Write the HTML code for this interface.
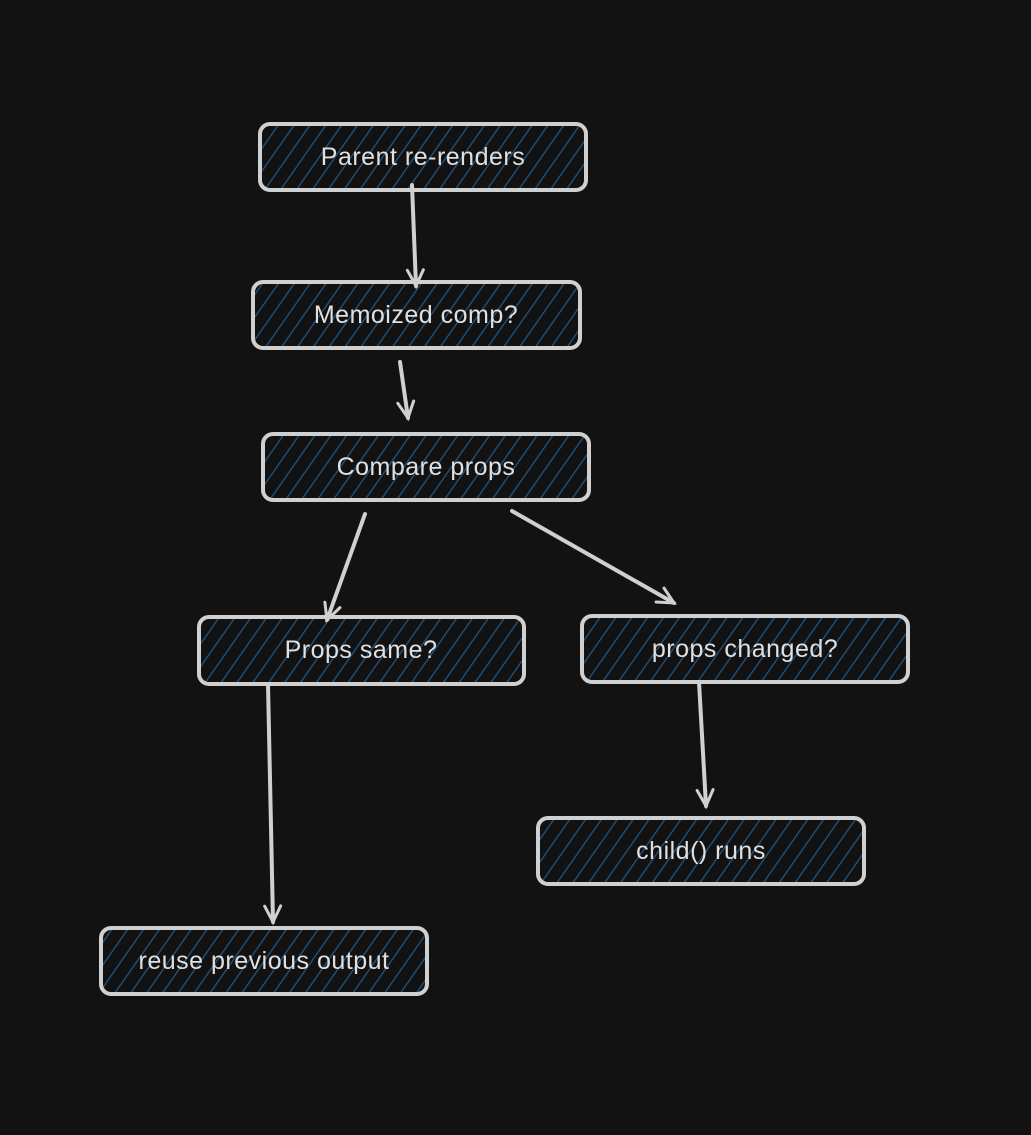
<!DOCTYPE html>
<html><head><meta charset="utf-8"><style>
html,body{margin:0;padding:0;background:#121212;}
svg{display:block}
text{font-family:"Liberation Sans",sans-serif;font-size:25px;fill:#e0e0e0;text-anchor:middle;dominant-baseline:central;letter-spacing:0.5px}
</style></head><body>
<svg width="1031" height="1135" viewBox="0 0 1031 1135" xmlns="http://www.w3.org/2000/svg">
<defs>
<pattern id="h" patternUnits="userSpaceOnUse" width="13" height="13" patternTransform="rotate(35)">
<rect width="13" height="13" fill="#121212"/>
<line x1="0" y1="0" x2="0" y2="13" stroke="#22557f" stroke-width="2.6"/>
</pattern>
<marker id="a" markerWidth="24" markerHeight="24" refX="18" refY="10" orient="auto" markerUnits="userSpaceOnUse">
<path d="M2,2 L18,10 L2,18" fill="none" stroke="#d0d0d0" stroke-width="3" stroke-linecap="round"/>
</marker>
</defs>
<g stroke="#d0d0d0" stroke-width="4" fill="url(#h)">
<rect x="260" y="124" width="326" height="66" rx="10"/>
<rect x="253" y="282" width="327" height="66" rx="10"/>
<rect x="263" y="434" width="326" height="66" rx="10"/>
<rect x="199" y="617" width="325" height="67" rx="10"/>
<rect x="582" y="616" width="326" height="66" rx="10"/>
<rect x="538" y="818" width="326" height="66" rx="10"/>
<rect x="101" y="928" width="326" height="66" rx="10"/>
</g>
<g stroke="#d0d0d0" stroke-width="4" fill="none" marker-end="url(#a)" stroke-linecap="round">
<line x1="412" y1="185" x2="416" y2="286"/>
<line x1="400" y1="362" x2="408" y2="418"/>
<line x1="365" y1="514" x2="327" y2="620"/>
<line x1="512" y1="511" x2="674" y2="603"/>
<line x1="699" y1="682" x2="706" y2="806"/>
<line x1="268" y1="684" x2="273" y2="922"/>
</g>
<text x="423" y="157">Parent re-renders</text>
<text x="416" y="315">Memoized comp?</text>
<text x="426" y="467">Compare props</text>
<text x="361" y="650">Props same?</text>
<text x="745" y="649">props changed?</text>
<text x="701" y="851">child() runs</text>
<text x="264" y="961">reuse previous output</text>
</svg>
</body></html>
